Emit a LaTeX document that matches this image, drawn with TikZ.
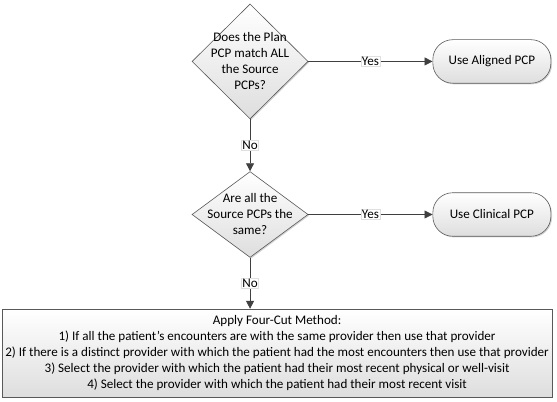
\documentclass[tikz,border=0pt]{standalone}
\usepackage{fontspec}
\setmainfont{Carlito}
\usetikzlibrary{shapes.geometric, arrows.meta, shadows}

\begin{document}
\begin{tikzpicture}[
	font = \fontsize{13.1}{16}\selectfont,
	boxfill/.style = {top color = white, bottom color = black!13, draw = black!65, line width = 0.6pt, drop shadow = {shadow xshift = 0.04cm, shadow yshift = -0.04cm, opacity = 0.35}},
	decision/.style = {diamond, boxfill, inner sep = 0pt, minimum width = 4.08 cm},
	outcome/.style = {rectangle, boxfill, rounded corners = 0.7 cm, minimum width = 4.15 cm, minimum height = 1.53 cm},
	flow/.style = {draw = black!75, line width = 0.8pt, -{Triangle[length=0.28cm, width=0.28cm]}},
	answer/.style = {fill = white, draw = black!12, inner sep = 1pt}
	]
	 \useasboundingbox (0, 0) rectangle (19.58, 14.13);
	 
	 \node[decision, minimum height = 4.04 cm, label = {[align = center]center:Does the Plan\\PCP match ALL\\the Source\\PCPs?}] (plan) at (8.79, 11.97) {};
	 \node[outcome] (aligned) at (17.29, 11.97) {Use Aligned PCP};
	 
	 \node[decision, minimum height = 3.02 cm, label = {[align = center]center:Are all the\\Source PCPs the\\same?}] (same) at (8.79, 6.59) {};
	 \node[outcome] (clinical) at (17.29, 6.59) {Use Clinical PCP};
	 
	 \node[rectangle, boxfill, align = center, minimum width = 19.26 cm, minimum height = 3.09 cm] (method) at (9.74, 1.72) {Apply Four-Cut Method:\\1) If all the patient’s encounters are with the same provider then use that provider\\2) If there is a distinct provider with which the patient had the most encounters then use that provider\\3) Select the provider with which the patient had their most recent physical or well-visit\\4) Select the provider with which the patient had their most recent visit};
	 
	 \draw[flow] (plan) -- node[answer] {Yes} (aligned);
	 \draw[flow] (plan) -- node[answer] {No} (same);
	 \draw[flow] (same) -- node[answer] {Yes} (clinical);
	 \draw[flow] (same.south) -- node[answer] {No} (same.south |- method.north);
\end{tikzpicture}
\end{document}
